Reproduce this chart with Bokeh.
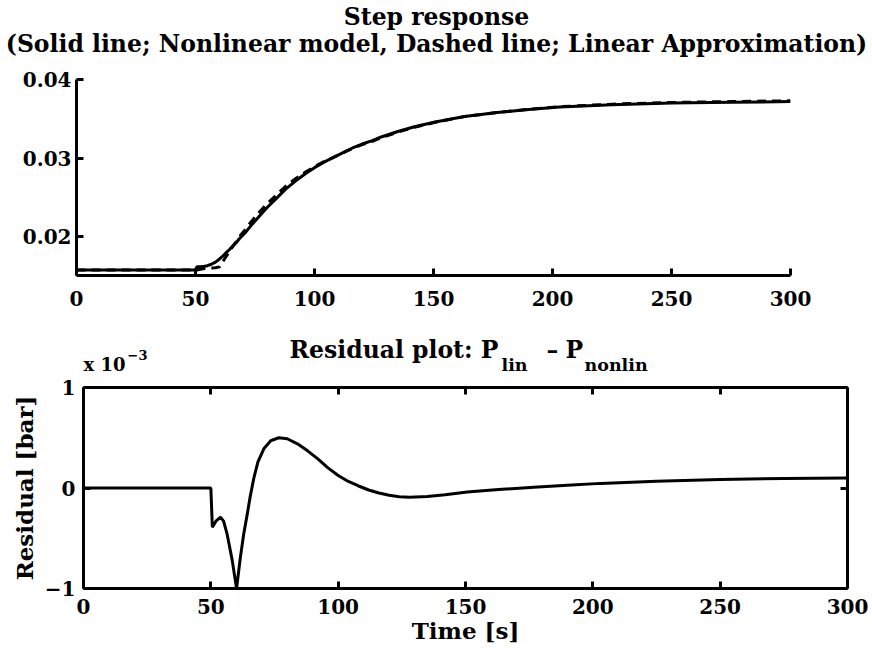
from bokeh.plotting import figure
from bokeh.models import LinearAxis, FixedTicker, Range1d
from bokeh.core.properties import value
from bokeh.embed import file_html
from bokeh.resources import INLINE

# Simulation time grid [s]
time_s = [0, 50, 50.6, 52, 53.8, 55, 56.4, 58.4, 60.1, 61.6,
          62.9, 64.3, 65.5, 66.9, 68.5, 70.8, 73.5, 76.7, 80, 84,
          88, 92, 96, 100, 104, 108, 112, 116, 120, 124,
          128, 135, 142, 150.7, 163, 176.8, 190, 203, 225, 250,
          275, 300]

# Pressure from the nonlinear model [bar]
p_nonlin = [0.0158, 0.0158, 0.0162, 0.01622, 0.01628, 0.01635, 0.0165, 0.0168, 0.0172, 0.0176,
            0.0180, 0.0184, 0.0188, 0.0192, 0.0198, 0.0205, 0.0215, 0.0226, 0.0237, 0.0249,
            0.0261, 0.0271, 0.0280, 0.0288, 0.0295, 0.0301, 0.0307, 0.0313, 0.0318, 0.0322,
            0.0327, 0.0334, 0.0340, 0.0346, 0.0353, 0.0358, 0.0362, 0.0365, 0.0368, 0.0370,
            0.0371, 0.0372]

# Residual P_lin - P_nonlin, in units of 1e-3 bar
residual_e3 = [0, 0, -0.39, -0.33, -0.29, -0.33, -0.46, -0.72, -1.0, -0.69,
               -0.46, -0.26, -0.08, 0.10, 0.26, 0.39, 0.47, 0.50, 0.49, 0.44,
               0.37, 0.29, 0.20, 0.125, 0.065, 0.02, -0.02, -0.05, -0.072, -0.086,
               -0.092, -0.085, -0.068, -0.04, -0.015, 0.007, 0.028, 0.046, 0.068, 0.085,
               0.095, 0.10]

# Linear approximation follows from the residual definition
p_lin = [n + r * 1e-3 for n, r in zip(p_nonlin, residual_e3)]

x_ticks = [0, 50, 100, 150, 200, 250, 300]
top_y_ticks = [0.02, 0.03, 0.04]
res_y_ticks = [-1, 0, 1]

FONT = "DejaVu Serif"
TICK_FS = "20px"
LABEL_FS = "23px"
TITLE_PX = 23.5
W = 872


def style_axis(ax, show_labels=True):
    ax.axis_line_width = 3
    ax.axis_line_color = "black"
    ax.major_tick_line_width = 3
    ax.major_tick_line_color = "black"
    ax.major_tick_in = 7
    ax.major_tick_out = 0
    ax.minor_tick_line_color = None
    ax.major_label_text_font = FONT
    ax.major_label_text_font_style = "bold"
    ax.major_label_text_font_size = TICK_FS
    ax.major_label_text_color = "black" if show_labels else None
    ax.axis_label_text_font = FONT
    ax.axis_label_text_font_style = "bold"
    ax.axis_label_text_font_size = LABEL_FS
    ax.axis_label_text_color = "black"


def clean(fig):
    fig.grid.visible = False
    fig.outline_line_color = None
    fig.background_fill_color = "white"
    fig.border_fill_color = "white"


def strip(height):
    """A bare canvas in pixel coordinates that carries header text."""
    s = figure(width=W, height=height, x_range=Range1d(0, W), y_range=Range1d(0, height),
               output_backend="svg", toolbar_location=None, min_border=0,
               x_axis_location=None, y_axis_location=None)
    clean(s)
    return s


def put(fig, x, y, text, size=TITLE_PX, align="left"):
    # y is the text baseline; the renderer sits glyphs about 0.35 em low
    fig.text(x=[x], y=[y + 0.35 * size], text=[text], text_align=align,
             text_baseline="alphabetic", text_font=value(FONT), text_font_style="bold",
             text_font_size=f"{size}px", text_color="black")


# ---- header of the upper panel ----
head1 = strip(62)
put(head1, 436, 37, "Step response", align="center")
put(head1, 436, 10, "(Solid line; Nonlinear model, Dashed line; Linear Approximation)",
    align="center")

# ---- upper panel: step responses ----
p1 = figure(width=W, height=258, x_range=Range1d(0, 300), y_range=Range1d(0.0151, 0.04),
            output_backend="svg", toolbar_location=None,
            min_border_left=76, min_border_right=82, min_border_top=17, min_border_bottom=45)
clean(p1)
style_axis(p1.xaxis[0])
style_axis(p1.yaxis[0])
p1.xaxis[0].ticker = FixedTicker(ticks=x_ticks)
p1.yaxis[0].ticker = FixedTicker(ticks=top_y_ticks)
p1.xaxis[0].major_label_standoff = 15
p1.yaxis[0].major_label_standoff = 5

p1.line(time_s, p_nonlin, line_color="black", line_width=3)
p1.line(time_s, p_lin, line_color="black", line_width=3, line_dash="9 6")

# ---- header of the residual panel ----
head2 = strip(55)
put(head2, 498, 17, "Residual plot: P", align="right")
put(head2, 501, 4, "lin", size=17.5)
put(head2, 546, 17, "\u2013")
put(head2, 565, 17, "P")
put(head2, 584, 4, "nonlin", size=17.5)
put(head2, 83, 4.5, "x 10", size=18)
put(head2, 127, 16, "\u22123", size=13)

# ---- lower panel: residual ----
p2 = figure(width=W, height=278, x_range=Range1d(0, 300), y_range=Range1d(-1, 1),
            output_backend="svg", toolbar_location=None,
            min_border_left=83, min_border_right=25, min_border_top=12, min_border_bottom=65)
clean(p2)
p2.add_layout(LinearAxis(), "above")
p2.add_layout(LinearAxis(), "right")
for ax in p2.xaxis:
    ax.ticker = FixedTicker(ticks=x_ticks)
for ax in p2.yaxis:
    ax.ticker = FixedTicker(ticks=res_y_ticks)
style_axis(p2.below[0])
style_axis(p2.left[0])
style_axis(p2.above[0], show_labels=False)
style_axis(p2.right[0], show_labels=False)
p2.below[0].major_label_standoff = 10
p2.below[0].axis_label = "Time [s]"
p2.below[0].axis_label_standoff = 0
p2.left[0].major_label_standoff = 8
p2.left[0].major_label_overrides = {-1: "\u22121", 0: "0", 1: "1"}
p2.left[0].axis_label = "Residual [bar]"
p2.left[0].axis_label_standoff = 4

p2.line(time_s, residual_e3, line_color="black", line_width=3)

open("out.html", "w").write(file_html([head1, p1, head2, p2], INLINE))
